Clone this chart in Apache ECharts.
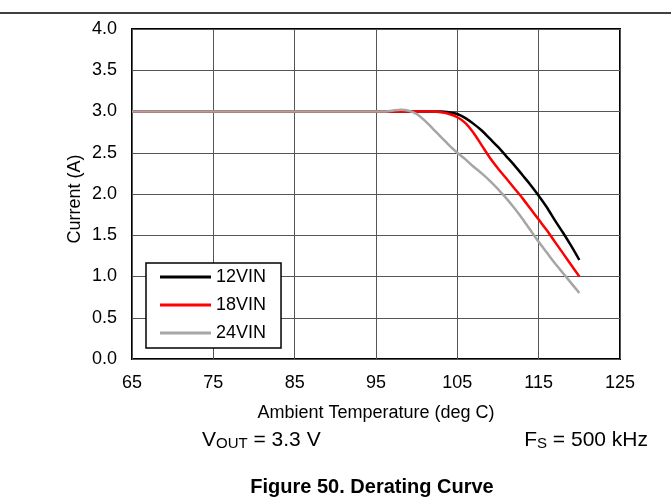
<!DOCTYPE html>
<html>
<head>
<meta charset="utf-8">
<script src="https://cdn.jsdelivr.net/npm/echarts@6/dist/echarts.min.js"></script>
<style>
html,body{margin:0;padding:0;background:#fff;}
#c{width:671px;height:497px;}
</style>
</head>
<body>
<div id="c"></div>
<script>
var temps = [65, 95, 96, 97, 98, 99, 100, 101, 102, 103, 104, 105, 106, 107, 108, 109, 110, 111, 112, 113, 114, 115, 116, 117, 118, 119, 120];
var i12 = [3.0, 3.0, 3.0, 3.0, 3.0, 3.0, 3.0, 3.0, 3.0, 3.0, 2.99, 2.97, 2.92, 2.85, 2.77, 2.67, 2.57, 2.46, 2.35, 2.23, 2.11, 1.98, 1.84, 1.68, 1.53, 1.37, 1.2];
var i18 = [3.0, 3.0, 3.0, 3.0, 3.0, 3.0, 3.0, 3.0, 3.0, 2.99, 2.97, 2.93, 2.86, 2.74, 2.59, 2.44, 2.31, 2.19, 2.07, 1.95, 1.82, 1.69, 1.56, 1.42, 1.28, 1.14, 1.0];
var i24 = [3.0, 3.0, 3.0, 3.01, 3.02, 3.01, 2.97, 2.89, 2.79, 2.69, 2.59, 2.5, 2.42, 2.33, 2.25, 2.16, 2.06, 1.95, 1.83, 1.70, 1.56, 1.42, 1.29, 1.16, 1.04, 0.92, 0.8];
var seriesNames = ['12VIN', '18VIN', '24VIN'];
var xTicks = [65, 75, 85, 95, 105, 115, 125];
var yTicks = [0, 0.5, 1, 1.5, 2, 2.5, 3, 3.5, 4];

var FONT = 'Liberation Sans, Arial, sans-serif';
function pairs(ys){ return temps.map(function(t,k){ return [t, ys[k]]; }); }

var chart = echarts.init(document.getElementById('c'), null, {renderer:'canvas'});
chart.setOption({
  animation: false,
  backgroundColor: '#fff',
  grid: {left: 132, right: 51, top: 29, bottom: 138, show: true, borderColor: '#000', borderWidth: 2, backgroundColor: 'transparent'},
  xAxis: {
    type: 'value', min: xTicks[0], max: xTicks[xTicks.length-1], interval: 10,
    name: 'Ambient Temperature (deg C)', nameLocation: 'middle', nameGap: 45,
    nameTextStyle: {fontFamily: FONT, fontSize: 18, color: '#000'},
    axisLine: {show: false}, axisTick: {show: false},
    axisLabel: {fontFamily: FONT, fontSize: 18, color: '#000', margin: 15},
    splitLine: {show: true, lineStyle: {color: '#555', width: 1}}
  },
  yAxis: {
    type: 'value', min: yTicks[0], max: yTicks[yTicks.length-1], interval: 0.5,
    axisLine: {show: false}, axisTick: {show: false},
    axisLabel: {fontFamily: FONT, fontSize: 18, color: '#000', margin: 15, formatter: function(v){ return v.toFixed(1); }},
    splitLine: {show: true, lineStyle: {color: '#555', width: 1}}
  },
  legend: {
    orient: 'vertical', left: 146, top: 263,
    backgroundColor: '#fff', borderColor: '#000', borderWidth: 1.5, borderRadius: 0,
    padding: [5, 15, 6, 14], itemGap: 10, itemWidth: 51, itemHeight: 3, icon: 'rect',
    textStyle: {fontFamily: FONT, fontSize: 18, color: '#000'},
    data: seriesNames
  },
  series: [
    {name: seriesNames[0], type: 'line', data: pairs(i12), symbol: 'none', smooth: 0.3, lineStyle: {color: '#000', width: 2.5}, itemStyle: {color: '#000'}},
    {name: seriesNames[1], type: 'line', data: pairs(i18), symbol: 'none', smooth: 0.3, lineStyle: {color: '#ff0000', width: 2.5}, itemStyle: {color: '#ff0000'}},
    {name: seriesNames[2], type: 'line', data: pairs(i24), symbol: 'none', smooth: 0.3, lineStyle: {color: '#a6a6a6', width: 2.5}, itemStyle: {color: '#a6a6a6'}}
  ],
  graphic: [
    {type: 'line', shape: {x1: 0, y1: 13, x2: 671, y2: 13}, style: {stroke: '#000', lineWidth: 1.5}},
    {type: 'text', x: 75, y: 199, rotation: Math.PI / 2, style: {
      text: 'Current (A)', fontFamily: FONT, fontSize: 18, fill: '#000', align: 'center', verticalAlign: 'middle'
    }},
    {type: 'text', left: 202, top: 430, style: {
      text: '{a|V}{b|OUT}{a| = 3.3 V}',
      rich: {a: {fontFamily: FONT, fontSize: 21, color: '#000', lineHeight: 23, verticalAlign: 'bottom'},
             b: {fontFamily: FONT, fontSize: 15, color: '#000', lineHeight: 6, verticalAlign: 'bottom'}}
    }},
    {type: 'text', right: 23, top: 430, style: {
      text: '{a|F}{b|S}{a| = 500 kHz}',
      rich: {a: {fontFamily: FONT, fontSize: 21, color: '#000', lineHeight: 23, verticalAlign: 'bottom'},
             b: {fontFamily: FONT, fontSize: 15, color: '#000', lineHeight: 6, verticalAlign: 'bottom'}}
    }},
    {type: 'text', x: 372, y: 487, style: {
      text: 'Figure 50. Derating Curve', fontFamily: FONT, fontSize: 20, fontWeight: 'bold', fill: '#000',
      align: 'center', verticalAlign: 'middle'
    }}
  ]
});
</script>
</body>
</html>
